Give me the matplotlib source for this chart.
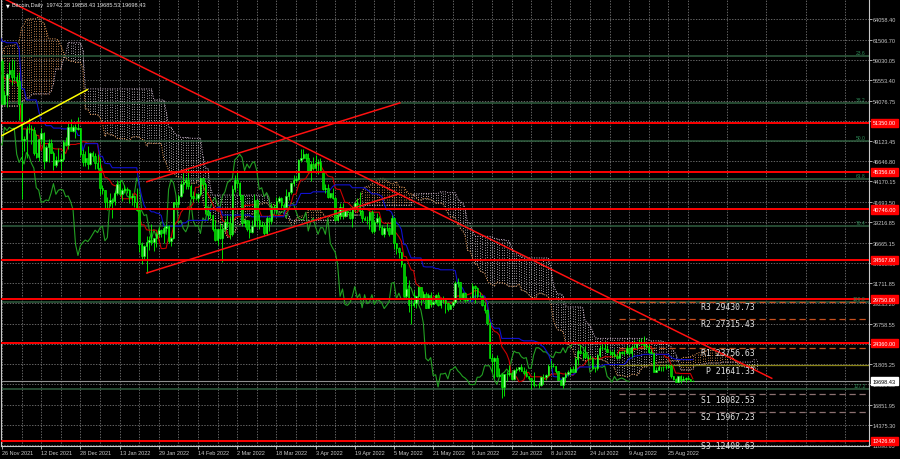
import numpy as np
import pandas as pd
import matplotlib
matplotlib.use('Agg')
import matplotlib.pyplot as plt

plt.rcParams['font.family'] = ['Liberation Sans', 'DejaVu Sans']

# === 1. daily bars (high, low, close) in thousand USD, first bar = 9 Sep 2021 ===
sep_2021 = [(47.3,45.5,46.4),(47.0,44.2,44.9),(45.9,44.8,45.2),(46.3,44.8,46.1),(46.4,43.4,44.9),(47.2,44.8,47.1),
            (48.4,46.7,48.2),(48.4,47.1,47.8),(48.0,46.8,47.2),(48.7,47.1,48.3),(48.3,47.1,47.3),(47.3,42.6,43.0),
            (43.6,39.8,40.7),(44.0,40.6,43.6),(44.9,43.1,44.9),(45.0,40.9,42.8),(42.9,41.7,42.7),(43.9,40.8,43.2),
            (44.3,42.1,42.2),(42.8,40.9,41.0),(42.6,40.8,41.5),(44.1,41.4,43.8)]
oct_2021 = [(48.4,43.3,48.2),(48.3,47.1,47.7),(49.2,47.5,48.2),(49.5,46.9,49.2),(51.9,49.1,51.5),(55.6,50.4,55.3),
            (55.3,53.4,53.8),(56.1,53.7,53.9),(55.4,53.7,54.9),(56.5,54.1,54.7),(57.8,54.5,57.5),(57.6,54.0,56.0),
            (57.6,54.3,57.4),(58.5,56.9,57.4),(62.8,56.9,61.7),(62.3,60.1,60.9),(61.6,58.9,61.5),(62.6,60.0,62.0),
            (64.4,61.4,64.3),(67.0,63.5,66.0),(66.6,62.0,62.2),(63.7,60.0,60.7),(61.7,59.7,61.4),(61.6,59.6,60.9),
            (63.7,60.7,63.0),(63.3,59.8,60.4),(61.5,58.1,58.5),(62.5,58.1,60.6),(62.9,60.3,62.3),(62.3,60.8,61.9),
            (62.4,60.0,61.3)]
nov_2021 = [(62.4,59.5,61.0),(64.2,60.7,63.2),(63.5,60.4,62.9),(63.1,60.8,61.4),(62.6,60.8,61.0),(61.6,60.2,61.5),
            (63.3,61.4,63.3),(67.8,63.3,67.5),(68.5,66.4,66.9),(69.0,63.3,64.9),(65.6,64.1,64.9),(65.0,62.3,64.2),
            (64.9,63.3,64.4),(65.6,63.6,65.5),(66.3,63.4,63.6),(63.6,58.6,60.1),(60.8,58.4,60.4),(60.9,56.5,56.9),
            (58.4,55.6,58.1),(59.8,57.4,59.7),(60.0,58.6,58.7),(59.3,55.6,56.3),(57.8,55.3,57.6),(57.9,55.9,57.2),
            (59.4,57.0,58.9),(59.1,53.6,53.7),(55.3,53.7,54.8),(57.4,53.3,57.3),(58.8,56.8,57.8),(59.2,56.0,57.0)]
dec_2021 = [(59.0,56.5,57.0),(57.3,55.8,56.5),(57.6,51.7,53.6),(53.9,42.0,49.2),(49.7,47.9,49.4),(50.9,47.1,50.6),
            (51.9,50.1,50.6),(51.1,48.7,50.5),(50.8,47.4,47.7),(50.0,47.0,47.2),(49.4,46.7,49.4),(50.7,48.7,50.1),
            (50.2,45.7,46.7),(48.6,46.6,48.4),(49.4,46.6,48.9),(49.4,47.6,47.6),(47.9,45.6,46.2),(47.3,45.9,46.8),
            (48.3,46.5,46.7),(47.5,45.6,46.9),(49.3,46.7,49.0),(49.6,48.5,48.6),(51.4,48.1,50.8),(51.8,50.4,50.4),
            (51.1,50.2,50.8),(51.2,49.5,50.6),(52.0,50.5,50.7),(50.7,47.3,47.5),(48.1,46.1,46.5),(47.9,46.0,47.1),
            (48.5,45.7,46.3)]
jan_2022 = [(47.8,46.2,47.7),(47.9,46.7,47.3),(47.6,45.7,46.4),(47.5,45.6,45.8),(47.0,42.5,43.4),(43.7,42.6,43.1),
            (43.1,40.8,41.6),(42.3,40.7,41.7),(42.8,41.2,41.9),(42.2,39.7,41.8),(43.0,41.3,42.7),(44.3,42.5,43.9),
            (44.4,42.4,42.6),(43.4,41.8,43.1),(43.7,42.7,43.2),(43.5,42.7,43.1),(43.2,41.5,42.3),(42.7,41.3,42.4),
            (42.5,41.1,41.7),(43.4,40.6,40.7),(41.1,35.5,36.5),(36.8,34.0,35.1),(36.4,34.6,36.3),(37.5,33.0,36.7),
            (37.5,35.8,37.0),(38.9,36.4,36.8),(37.2,35.6,37.2),(38.0,36.2,37.7),(38.6,37.4,38.2),(38.4,37.4,37.9),
            (38.7,36.6,38.5)]
feb_2022 = [(39.0,38.1,38.7),(38.8,36.6,36.9),(37.4,36.3,37.3),(41.7,37.1,41.6),(42.0,41.1,41.4),(42.6,41.1,42.4),
            (44.4,42.3,43.8),(45.2,42.7,44.1),(44.7,43.2,44.3),(45.8,43.2,43.6),(43.9,42.0,42.4),(43.0,41.7,42.2),
            (42.7,41.9,42.1),(42.8,41.6,42.6),(44.7,42.4,44.6),(44.5,43.3,43.9),(44.1,40.2,40.6),(40.9,39.5,40.0),
            (40.4,39.7,40.1),(40.1,38.1,38.4),(39.4,36.9,37.0),(38.4,36.4,38.3),(39.1,37.1,37.3),(38.9,34.3,38.3),
            (39.6,38.1,39.2),(40.1,38.6,39.1),(39.8,37.1,37.7),(43.7,37.5,43.2)]
mar_2022 = [(44.9,42.9,44.4),(45.4,43.4,44.0),(44.1,41.9,42.5),(42.5,38.7,39.1),(39.6,38.6,39.4),(39.4,38.1,38.4),
            (39.5,37.2,38.0),(39.4,37.9,38.7),(42.6,38.7,41.9),(42.0,38.6,39.4),(40.2,38.3,38.7),(39.3,38.7,38.8),
            (39.2,37.6,37.8),(39.9,37.6,39.7),(39.8,38.1,39.3),(41.5,38.9,41.1),(41.4,40.5,40.9),(42.3,40.2,41.8),
            (42.4,41.5,42.2),(42.3,40.9,41.3),(41.5,40.5,41.0),(43.3,40.9,42.4),(42.9,41.9,42.9),(44.1,42.6,44.0),
            (45.0,43.6,44.3),(44.8,44.1,44.5),(46.9,44.4,46.8),(48.2,46.6,47.1),(48.1,46.9,47.5),(47.7,46.6,47.1),
            (47.6,45.2,45.5)]
apr_2022 = [(46.7,44.2,46.3),(47.2,45.6,45.8),(47.4,45.5,46.4),(46.9,45.1,46.6),(47.1,45.4,45.5),(45.5,43.1,43.2),
            (43.9,42.8,43.4),(43.9,42.1,42.3),(42.8,42.1,42.8),(43.4,42.0,42.2),(42.4,39.3,39.5),(40.6,39.3,40.1),
            (41.5,39.6,41.1),(41.5,39.6,39.9),(40.7,39.8,40.5),(40.6,40.0,40.4),(40.6,39.6,39.7),(41.0,38.6,40.8),
            (41.7,40.6,41.5),(42.2,40.9,41.4),(42.9,40.0,40.5),(40.8,39.2,39.7),(39.9,39.4,39.5),(39.9,39.0,39.5),
            (40.5,38.3,40.4),(40.7,37.9,38.1),(39.4,37.9,39.2),(40.3,38.9,39.7),(39.9,38.2,38.6),(38.8,37.6,37.7)]
may_2022 = [(38.6,37.4,38.5),(39.1,38.1,38.5),(38.6,37.5,37.7),(40.0,37.7,39.7),(39.8,35.9,36.6),(36.6,35.3,36.0),
            (36.1,34.8,35.5),(35.5,33.7,34.0),(34.2,30.0,30.1),(32.6,29.9,31.0),(32.1,28.2,29.1),(30.0,26.7,29.0),
            (30.9,28.8,29.3),(30.2,28.7,30.1),(31.4,29.5,31.3),(31.3,29.1,29.9),(30.7,29.5,30.4),(30.6,28.7,28.7),
            (30.5,28.7,30.3),(30.6,28.8,29.2),(29.6,29.0,29.4),(30.4,29.2,30.3),(30.6,28.9,29.1),(29.8,28.7,29.7),
            (30.2,29.3,29.6),(29.8,28.0,29.3),(29.4,28.3,28.6),(29.2,28.5,29.0),(29.5,28.8,29.4),(32.0,29.3,31.7),
            (32.3,31.2,31.8)]
jun_2022 = [(31.9,29.5,29.8),(30.6,29.6,30.5),(30.6,29.4,29.7),(29.9,29.5,29.9),(30.1,29.5,29.9),(31.7,29.9,31.4),
            (31.5,29.3,31.1),(31.3,29.9,30.2),(30.6,30.0,30.1),(30.3,28.9,29.1),(29.4,28.1,28.4),(28.5,26.6,26.8),
            (26.9,22.6,22.5),(23.0,20.8,22.2),(22.7,20.1,22.6),(22.9,20.2,20.4),(21.3,20.3,20.5),(20.7,17.6,19.0),
            (20.6,17.9,20.6),(21.0,19.7,20.6),(21.7,20.4,20.7),(20.9,19.8,20.0),(21.2,19.9,21.1),(21.5,20.7,21.2),
            (21.5,20.9,21.5),(21.8,21.0,21.0),(21.5,20.5,20.7),(21.2,20.2,20.3),(20.4,19.9,20.1),(20.1,18.7,19.8)]
jul_2022 = [(20.8,19.0,19.3),(19.4,19.1,19.3),(19.6,18.9,19.3),(20.3,19.1,20.2),(20.6,19.4,20.2),(20.6,19.8,20.5),
            (21.8,20.3,21.6),(22.3,21.2,21.6),(21.9,21.4,21.6),(21.6,20.7,20.9),(20.9,19.9,19.9),(20.0,19.2,19.3),
            (20.2,18.9,20.2),(20.8,19.6,20.6),(21.1,20.4,20.8),(21.5,20.5,21.2),(21.6,20.8,20.8),(22.7,20.8,22.4),
            (23.7,21.7,23.4),(24.2,23.0,23.2),(23.4,22.4,23.2),(24.0,22.6,22.7),(22.9,22.3,22.5),(22.9,22.4,22.6),
            (22.6,21.3,21.3),(21.4,20.8,21.3),(23.0,21.1,22.9),(24.1,22.7,23.8),(24.3,23.5,23.8),(24.6,23.6,23.6),
            (24.1,23.3,23.3)]
aug_2022 = [(23.5,22.9,23.3),(23.4,22.7,23.0),(23.6,22.7,22.8),(23.2,22.4,22.6),(23.4,22.6,23.3),(23.4,23.0,23.2),
            (23.5,22.9,23.2),(24.2,23.2,23.8),(23.9,22.9,23.2),(24.2,22.7,23.9),(24.8,23.9,23.9),(24.4,23.6,24.4),
            (24.9,24.3,24.4),(25.0,24.1,24.3),(25.2,23.8,24.1),(24.2,23.7,23.9),(24.4,23.2,23.3),(23.6,23.1,23.2),
            (23.2,20.8,20.8),(21.4,20.8,21.1),(21.7,21.1,21.5),(21.5,20.9,21.4),(21.6,20.9,21.5),(21.8,21.2,21.4),
            (21.8,21.3,21.6),(21.8,20.1,20.3),(20.3,19.8,20.0),(20.1,19.6,19.6),(20.4,19.6,20.3),(20.5,19.5,19.8),
            (20.4,19.8,20.0)]
sep_2022 = [(20.2,19.6,20.1),(20.4,19.8,19.95),(20.0,19.7,19.74),(19.858,19.686,19.698)]
first_open = 46.0
chart_start = 78          # bar index of 26 Nov 2021

# === 2. levels and objects ===
red_levels = [51350.00, 45356.00, 40746.00, 34567.00, 29750.00, 24360.00, 12426.90]
fib_top, fib_bottom = 68870, 29445
fib_ratios = [23.6, 38.2, 50.0, 61.8, 76.4, 100.0, 127.2]
pivot_names = ['R3', 'R2', 'R1', 'P', 'S1', 'S2', 'S3']
pivot_levels = [29430.73, 27315.43, 23756.63, 21641.33, 18082.53, 15967.23, 12408.63]
pivot_colors = ['#c8501e', '#c8501e', '#c8501e', '#8a8418', '#8c7070', '#8c7070', '#8c7070']
last_price = 19698.43
price_ticks = [64058.40, 61506.70, 59030.05, 56553.40, 54076.75, 51600.10, 49123.45, 46646.80, 44170.15,
               41693.50, 39216.85, 36665.15, 34188.50, 31711.85, 29235.20, 26758.55, 24281.90, 21805.25,
               19328.60, 16851.95, 14375.30, 11898.65]
date_labels = ['26 Nov 2021', '12 Dec 2021', '28 Dec 2021', '13 Jan 2022', '29 Jan 2022', '14 Feb 2022',
               '2 Mar 2022', '18 Mar 2022', '3 Apr 2022', '19 Apr 2022', '5 May 2022', '21 May 2022',
               '6 Jun 2022', '22 Jun 2022', '8 Jul 2022', '24 Jul 2022', '9 Aug 2022', '25 Aug 2022']
title_text = 'Bitcoin,Daily  19742.38 19858.43 19685.53 19698.43'

# trend lines: (day, price) end points
down_trend = [(0, 66660), (314.2, 20065)]
channel_top = [(59.1, 44137), (162.4, 53785)]
channel_bottom = [(59.1, 32958), (161.8, 42631)]
yellow_line = [(-0.1, 49769), (34.8, 55402)]

# === 3. bars + ichimoku ===
bars = np.array(sep_2021 + oct_2021 + nov_2021 + dec_2021 + jan_2022 + feb_2022 + mar_2022
                + apr_2022 + may_2022 + jun_2022 + jul_2022 + aug_2022 + sep_2022) * 1000
highs, lows, closes = bars[:, 0], bars[:, 1], bars[:, 2]
opens = np.r_[first_open * 1000, closes[:-1]]
days = np.arange(len(bars)) - chart_start

H, L = pd.Series(highs), pd.Series(lows)
tenkan = (H.rolling(9).max() + L.rolling(9).min()) / 2
kijun = (H.rolling(26).max() + L.rolling(26).min()) / 2
span_a = ((tenkan + kijun) / 2).values
span_b = ((H.rolling(52).max() + L.rolling(52).min()) / 2).values

# === 4. figure ===
fig = plt.figure(figsize=(9, 4.6), dpi=100, facecolor='black')
ax = fig.add_axes([1 / 900, 13 / 460, 868 / 900, 447 / 460], facecolor='black')
ax.set_xlim(-0.41, 353.9)
ax.set_ylim(11776.5, 66507.2)

# grid
ax.set_yticks(price_ticks, [f'{p:.2f}' for p in price_ticks])
ax.set_xticks(np.arange(len(date_labels)) * 16, date_labels)
ax.set_xticks(np.arange(8, 354, 16), minor=True)
ax.grid(which='both', color='#8a8a8a', linestyle=(0, (2, 2)), linewidth=0.5, zorder=0)
ax.set_axisbelow(True)
ax.yaxis.tick_right()
ax.tick_params(axis='y', colors='#c8c8c8', labelsize=4.0, length=2, width=0.6, pad=0.6)
ax.tick_params(axis='x', which='major', colors='#c8c8c8', labelsize=4.0, length=2, width=0.6, pad=1)
ax.tick_params(axis='x', which='minor', length=0)
for lbl in ax.get_xticklabels():
    lbl.set_ha('left')
for side in ['left', 'bottom', 'right']:
    ax.spines[side].set_color('#c8c8c8')
    ax.spines[side].set_linewidth(0.8)
ax.spines['top'].set_visible(False)

# cloud (dotted histogram between spans)
xc = days + 26
ok = ~np.isnan(span_b)
lo = np.minimum(span_a, span_b)
hi = np.maximum(span_a, span_b)
up = span_a >= span_b
ax.vlines(xc[ok & up], lo[ok & up], hi[ok & up], colors='#f4a460', linestyles=(0, (1, 2)), linewidth=0.6, zorder=1)
ax.vlines(xc[ok & ~up], lo[ok & ~up], hi[ok & ~up], colors='#d8d0d8', linestyles=(0, (1, 2)), linewidth=0.6, zorder=1)
ax.plot(xc, span_a, color='#f4a460', linestyle=(0, (1, 1.5)), linewidth=0.7, zorder=1)
ax.plot(xc, span_b, color='#d8bfd8', linestyle=(0, (1, 1.5)), linewidth=0.7, zorder=1)

# fibo lines
fib_prices = [fib_top - r / 100 * (fib_top - fib_bottom) for r in fib_ratios]
for r, p in zip(fib_ratios, fib_prices):
    ax.axhline(p, color='#2f5f3f', linewidth=1.1, zorder=2)
    ax.text(352.5, p + 120, f'{r:.1f}', color='#2e8b57', fontsize=3.6, ha='right', va='bottom', zorder=6)

# pivot lines
for name, p, col in zip(pivot_names, pivot_levels, pivot_colors):
    ls = '-' if name == 'P' else (0, (5, 3))
    ax.plot([252, 354], [p, p], color=col, linestyle=ls, linewidth=0.9, zorder=2)
    ax.text(307.3, p - 560, f'{name} {p:.2f}', color='#e0e0e0', fontsize=5.9,
            family='DejaVu Sans Mono', ha='right', va='center', zorder=6)

# last price line
ax.axhline(last_price, color='#909090', linewidth=0.8, zorder=2)

# ichimoku lines
ax.plot(days - 26, closes, color='#22a022', linewidth=0.8, zorder=3)
ax.plot(days, tenkan, color='#cc0000', linewidth=0.8, zorder=3)
ax.plot(days, kijun, color='#1010d0', linewidth=0.8, zorder=3)

# candles
bull = closes >= opens
ax.vlines(days, lows, highs, colors='#00ff00', linewidth=0.6, zorder=4)
ax.bar(days[bull], (closes - opens)[bull], bottom=opens[bull], width=0.6,
       color='#a0ffa0', edgecolor='#00ff00', linewidth=0.4, zorder=4)
ax.bar(days[~bull], (closes - opens)[~bull], bottom=opens[~bull], width=0.6,
       color='#00c000', edgecolor='#00ff00', linewidth=0.4, zorder=4)

# horizontal red levels and trend lines
for p in red_levels:
    ax.axhline(p, color='#ff0000', linewidth=1.4, zorder=5)
for seg in [down_trend, channel_top, channel_bottom]:
    ax.plot(*zip(*seg), color='#ff1010', linewidth=1.1, zorder=5)
ax.plot(*zip(*yellow_line), color='#ffff00', linewidth=1.1, zorder=5)

# price labels on the right axis
ytr = ax.get_yaxis_transform()
for p in red_levels:
    ax.text(1.0045, p, f'{p:.2f}', transform=ytr, color='white', fontsize=4.0, va='center', ha='left',
            clip_on=False, zorder=7, bbox=dict(boxstyle='square,pad=0.3', facecolor='#ff0000', edgecolor='#ff0000'))
ax.text(1.0045, last_price, f'{last_price:.2f}', transform=ytr, color='black', fontsize=4.0, va='center',
        ha='left', clip_on=False, zorder=7,
        bbox=dict(boxstyle='square,pad=0.3', facecolor='white', edgecolor='white'))

# title
fig.text(6 / 900, 1 - 6 / 460, '▼', color='white', fontsize=3.5, family='DejaVu Sans', va='center')
fig.text(12 / 900, 1 - 6 / 460, title_text, color='#e8e8e8', fontsize=4.1, va='center')

fig.savefig('out.png', dpi=100, facecolor='black')
